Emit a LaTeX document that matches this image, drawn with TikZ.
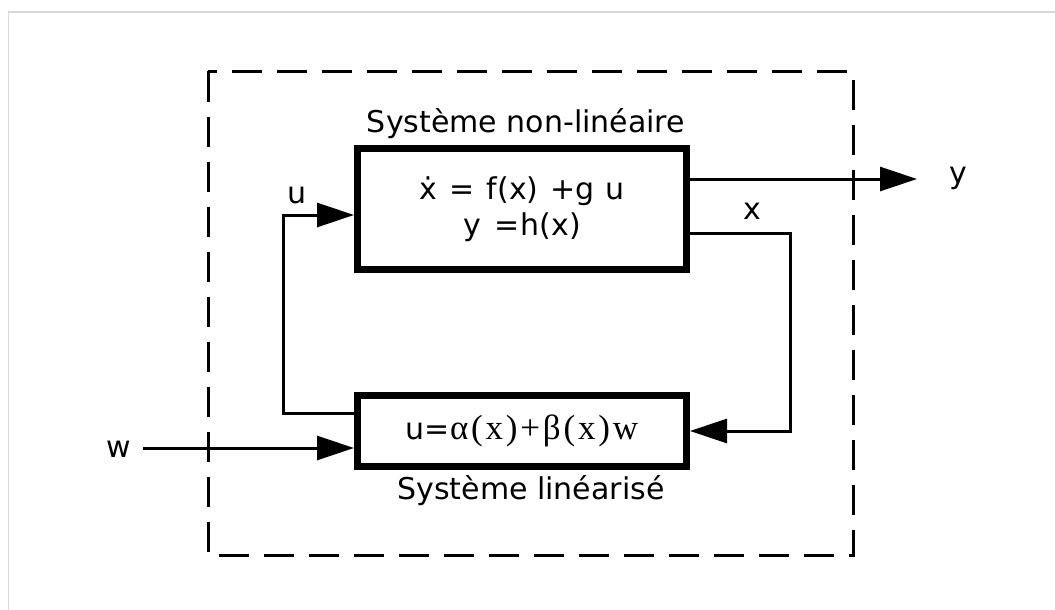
\documentclass[tikz,border=0pt]{standalone}
\usepackage{fontspec}
\setmainfont{DejaVu Sans}
\newfontfamily\serifgr[LetterSpace=8]{Liberation Serif}
\usetikzlibrary{arrows.meta}
\begin{document}
\begin{tikzpicture}[x=1pt,y=-1pt,
  blk/.style={draw, line width=7pt, minimum width=329pt, inner sep=0pt},
  conn/.style={line width=3pt},
  arr/.style={conn, -{Triangle[length=37pt,width=24pt]}},
  lbl/.style={font=\fontsize{30}{36}\selectfont, inner sep=0pt, anchor=base},
  dashframe/.style={dash pattern=on 30pt off 15pt, line width=3pt},
  pageframe/.style={draw=black!15, line width=1.5pt}]
\useasboundingbox (0,0) rectangle (1055,610);
\coordinate (pf1) at (8.5,610);
\coordinate (pf2) at (8.5,12);
\coordinate (pf3) at (1055,12);
\draw[pageframe] (pf1) -- (pf2) -- (pf3);
\coordinate (df1) at (208,71.5);
\coordinate (df2) at (853.5,555.5);
\draw[dashframe] (df1) rectangle (df2);
\node[blk, minimum height=121pt, align=center, font=\fontsize{30}{36}\selectfont] (top) at (522,209) {ẋ\hspace{3pt} =\hspace{3pt} f(x)\hspace{2pt} +g\hspace{2pt} u\\y\hspace{4pt} =\hspace{1pt}h(x)};
\node[blk, minimum height=71pt, font=\fontsize{30}{36}\selectfont] (bot) at (522,430.5) {u={\serifgr\fontsize{35}{40}\selectfont α(x)+β(x)w}};
\node[lbl] (tl) at (526,132) {Système non-linéaire};
\node[lbl] (bl) at (531,499) {Système linéarisé};
\node[lbl] (ul) at (297,203) {u};
\node[lbl] (xl) at (752,219) {x};
\node[lbl] (yl) at (958,183) {y};
\node[lbl] (wl) at (119,457) {w};
\coordinate (yend) at (917,179);
\draw[arr] (top.east |- yend) -- (yend);
\coordinate (xc1) at (790,233);
\coordinate (xc2) at (790,431);
\draw[arr] (top.east |- xc1) -- (xc1) -- (xc2) -- (bot.east |- xc2);
\coordinate (uc1) at (283,413);
\coordinate (uc2) at (283,215);
\draw[arr] (bot.west |- uc1) -- (uc1) -- (uc2) -- (top.west |- uc2);
\coordinate (wst) at (143,448);
\draw[arr] (wst) -- (bot.west |- wst);
\end{tikzpicture}
\end{document}
